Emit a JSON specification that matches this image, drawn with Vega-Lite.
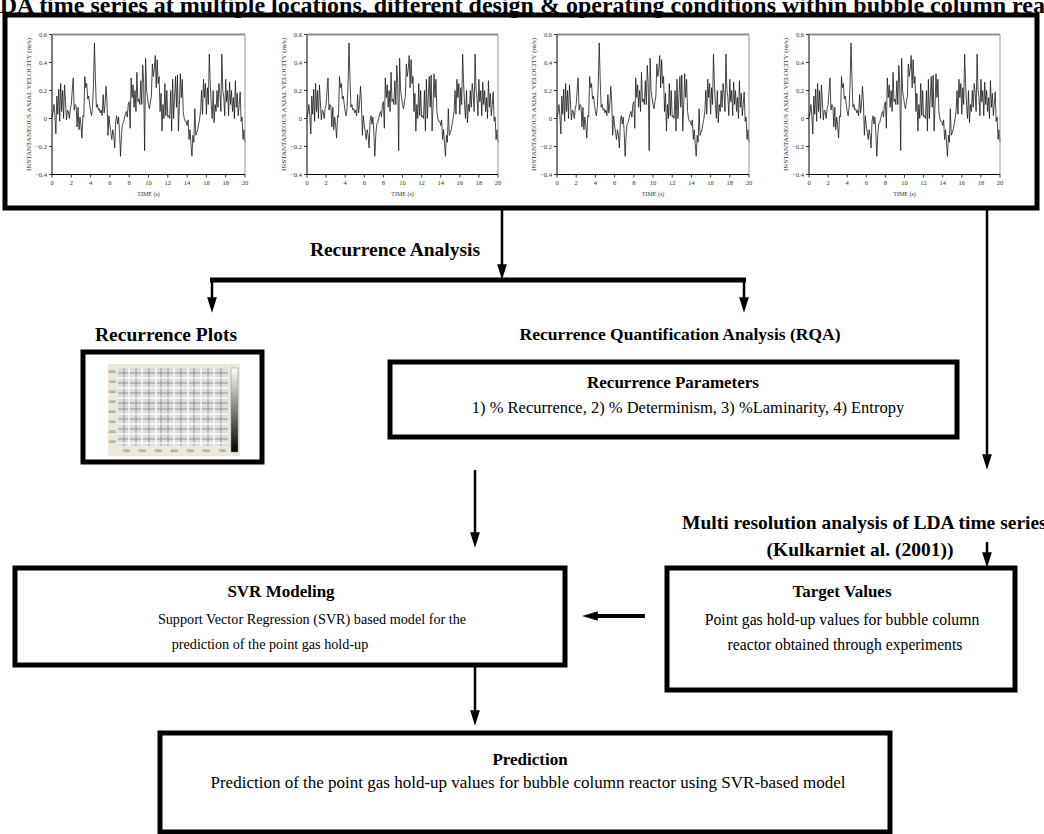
{
  "$schema": "https://vega.github.io/schema/vega-lite/v6.json",
  "width": 1044,
  "height": 834,
  "autosize": "none",
  "padding": 0,
  "background": "white",
  "config": {
    "view": {"stroke": null},
    "text": {"font": "Liberation Serif"}
  },
  "datasets": {
    "lda": [
      {"t":0.0,"v":0.01},{"t":0.1,"v":0.04},{"t":0.2,"v":0.10},{"t":0.3,"v":0.02},{"t":0.4,"v":-0.11},
      {"t":0.5,"v":0.16},{"t":0.6,"v":0.03},{"t":0.7,"v":0.21},{"t":0.8,"v":-0.02},{"t":0.9,"v":0.25},
      {"t":1.0,"v":0.05},{"t":1.1,"v":0.20},{"t":1.2,"v":0.00},{"t":1.3,"v":0.24},{"t":1.4,"v":0.12},
      {"t":1.5,"v":-0.01},{"t":1.6,"v":0.06},{"t":1.7,"v":0.05},{"t":1.8,"v":0.00},{"t":1.9,"v":0.07},
      {"t":2.0,"v":0.10},{"t":2.1,"v":0.20},{"t":2.2,"v":0.29},{"t":2.3,"v":0.06},{"t":2.4,"v":0.10},
      {"t":2.5,"v":0.09},{"t":2.6,"v":-0.06},{"t":2.7,"v":0.08},{"t":2.8,"v":-0.08},{"t":2.9,"v":0.01},
      {"t":3.0,"v":-0.05},{"t":3.1,"v":-0.14},{"t":3.2,"v":0.02},{"t":3.3,"v":0.01},{"t":3.4,"v":0.30},
      {"t":3.5,"v":0.22},{"t":3.6,"v":0.25},{"t":3.7,"v":0.14},{"t":3.8,"v":0.16},{"t":3.9,"v":0.10},
      {"t":4.0,"v":0.05},{"t":4.1,"v":0.02},{"t":4.2,"v":0.08},{"t":4.3,"v":0.25},{"t":4.4,"v":0.54},
      {"t":4.5,"v":0.28},{"t":4.6,"v":0.08},{"t":4.7,"v":0.10},{"t":4.8,"v":0.06},{"t":4.9,"v":0.07},
      {"t":5.0,"v":0.04},{"t":5.1,"v":0.06},{"t":5.2,"v":0.02},{"t":5.3,"v":0.17},{"t":5.4,"v":0.04},
      {"t":5.5,"v":0.10},{"t":5.6,"v":0.23},{"t":5.7,"v":0.12},{"t":5.8,"v":-0.12},{"t":5.9,"v":0.02},
      {"t":6.0,"v":-0.05},{"t":6.1,"v":-0.10},{"t":6.2,"v":-0.15},{"t":6.3,"v":-0.08},{"t":6.4,"v":-0.12},
      {"t":6.5,"v":-0.21},{"t":6.6,"v":-0.02},{"t":6.7,"v":0.02},{"t":6.8,"v":-0.04},{"t":6.9,"v":0.01},
      {"t":7.0,"v":-0.10},{"t":7.1,"v":-0.27},{"t":7.2,"v":-0.12},{"t":7.3,"v":-0.04},{"t":7.4,"v":-0.03},
      {"t":7.5,"v":0.00},{"t":7.6,"v":0.03},{"t":7.7,"v":0.05},{"t":7.8,"v":0.01},{"t":7.9,"v":0.10},
      {"t":8.0,"v":0.12},{"t":8.1,"v":-0.07},{"t":8.2,"v":0.29},{"t":8.3,"v":0.15},{"t":8.4,"v":0.24},
      {"t":8.5,"v":0.08},{"t":8.6,"v":0.20},{"t":8.7,"v":0.05},{"t":8.8,"v":0.33},{"t":8.9,"v":0.12},
      {"t":9.0,"v":0.14},{"t":9.1,"v":0.10},{"t":9.2,"v":0.27},{"t":9.3,"v":0.10},{"t":9.4,"v":0.38},
      {"t":9.5,"v":0.25},{"t":9.6,"v":-0.23},{"t":9.7,"v":0.43},{"t":9.8,"v":0.20},{"t":9.9,"v":0.15},
      {"t":10.0,"v":0.10},{"t":10.1,"v":0.07},{"t":10.2,"v":0.12},{"t":10.3,"v":0.16},{"t":10.4,"v":0.39},
      {"t":10.5,"v":0.30},{"t":10.6,"v":0.35},{"t":10.7,"v":0.45},{"t":10.8,"v":0.22},{"t":10.9,"v":0.42},
      {"t":11.0,"v":0.25},{"t":11.1,"v":0.30},{"t":11.2,"v":0.05},{"t":11.3,"v":0.18},{"t":11.4,"v":-0.09},
      {"t":11.5,"v":0.10},{"t":11.6,"v":0.00},{"t":11.7,"v":0.25},{"t":11.8,"v":0.02},{"t":11.9,"v":0.20},
      {"t":12.0,"v":0.01},{"t":12.1,"v":0.02},{"t":12.2,"v":0.00},{"t":12.3,"v":0.20},{"t":12.4,"v":-0.09},
      {"t":12.5,"v":0.28},{"t":12.6,"v":0.00},{"t":12.7,"v":0.15},{"t":12.8,"v":0.30},{"t":12.9,"v":0.08},
      {"t":13.0,"v":0.31},{"t":13.1,"v":-0.09},{"t":13.2,"v":0.10},{"t":13.3,"v":0.32},{"t":13.4,"v":0.15},
      {"t":13.5,"v":0.28},{"t":13.6,"v":0.05},{"t":13.7,"v":0.00},{"t":13.8,"v":-0.02},{"t":13.9,"v":-0.02},
      {"t":14.0,"v":-0.05},{"t":14.1,"v":-0.01},{"t":14.2,"v":-0.15},{"t":14.3,"v":-0.08},{"t":14.4,"v":-0.18},
      {"t":14.5,"v":-0.27},{"t":14.6,"v":-0.12},{"t":14.7,"v":-0.17},{"t":14.8,"v":0.07},{"t":14.9,"v":-0.12},
      {"t":15.0,"v":-0.10},{"t":15.1,"v":-0.08},{"t":15.2,"v":-0.04},{"t":15.3,"v":0.00},{"t":15.4,"v":0.05},
      {"t":15.5,"v":0.20},{"t":15.6,"v":0.03},{"t":15.7,"v":0.28},{"t":15.8,"v":0.15},{"t":15.9,"v":0.25},
      {"t":16.0,"v":0.03},{"t":16.1,"v":0.22},{"t":16.2,"v":0.10},{"t":16.3,"v":0.46},{"t":16.4,"v":0.25},
      {"t":16.5,"v":0.10},{"t":16.6,"v":0.00},{"t":16.7,"v":0.20},{"t":16.8,"v":-0.03},{"t":16.9,"v":0.10},
      {"t":17.0,"v":0.05},{"t":17.1,"v":0.20},{"t":17.2,"v":0.08},{"t":17.3,"v":0.25},{"t":17.4,"v":0.18},
      {"t":17.5,"v":0.05},{"t":17.6,"v":0.46},{"t":17.7,"v":0.20},{"t":17.8,"v":0.15},{"t":17.9,"v":0.02},
      {"t":18.0,"v":0.28},{"t":18.1,"v":0.12},{"t":18.2,"v":0.20},{"t":18.3,"v":0.02},{"t":18.4,"v":0.26},
      {"t":18.5,"v":0.10},{"t":18.6,"v":0.20},{"t":18.7,"v":0.05},{"t":18.8,"v":0.15},{"t":18.9,"v":0.00},
      {"t":19.0,"v":0.27},{"t":19.1,"v":0.08},{"t":19.2,"v":0.18},{"t":19.3,"v":0.02},{"t":19.4,"v":0.10},
      {"t":19.5,"v":0.19},{"t":19.6,"v":-0.02},{"t":19.7,"v":0.01},{"t":19.8,"v":-0.15},{"t":19.9,"v":-0.08},
      {"t":20.0,"v":-0.17}
    ],
    "frame": [
      {"side":"left","t":0,"v":-0.4,"t2":0,"v2":0.6},
      {"side":"bottom","t":0,"v":-0.4,"t2":20,"v2":-0.4},
      {"side":"top","t":0,"v":0.6,"t2":20,"v2":0.6},
      {"side":"right","t":20,"v":-0.4,"t2":20,"v2":0.6}
    ],
    "xticks": [
      {"t":0,"v":-0.4},{"t":2,"v":-0.4},{"t":4,"v":-0.4},{"t":6,"v":-0.4},{"t":8,"v":-0.4},{"t":10,"v":-0.4},
      {"t":12,"v":-0.4},{"t":14,"v":-0.4},{"t":16,"v":-0.4},{"t":18,"v":-0.4},{"t":20,"v":-0.4}
    ],
    "yticks": [
      {"t":0,"v":-0.4},{"t":0,"v":-0.2},{"t":0,"v":0},{"t":0,"v":0.2},{"t":0,"v":0.4},{"t":0,"v":0.6}
    ],
    "ptitles": [
      {"kind":"x","t":10,"v":-0.4,"text":"TIME (s)"},
      {"kind":"y","t":0,"v":0.1,"text":"INSTANTANEOUS AXIAL VELOCITY (m/s)"}
    ],
    "boxes": [
      {"name":"time series","x":5,"y":15,"x2":1037,"y2":208},
      {"name":"recurrence plot","x":83,"y":352,"x2":262,"y2":462},
      {"name":"rqa","x":390,"y":362,"x2":957,"y2":437},
      {"name":"svr","x":15,"y":568,"x2":565,"y2":665},
      {"name":"target","x":667,"y":568,"x2":1015,"y2":690},
      {"name":"prediction","x":160,"y":733,"x2":890,"y2":832}
    ],
    "segments": [
      {"kind":"shaft","x":502,"y":210,"x2":502,"y2":266},
      {"kind":"bar","x":210,"y":280,"x2":746,"y2":280},
      {"kind":"shaft","x":212,"y":280,"x2":212,"y2":299},
      {"kind":"shaft","x":744,"y":280,"x2":744,"y2":299},
      {"kind":"shaft","x":987,"y":210,"x2":987,"y2":456},
      {"kind":"shaft","x":475,"y":470,"x2":475,"y2":534},
      {"kind":"shaft","x":987,"y":542,"x2":987,"y2":554},
      {"kind":"thick","x":645,"y":616,"x2":596,"y2":616},
      {"kind":"shaft","x":475,"y":665,"x2":475,"y2":712}
    ],
    "heads": [
      {"dir":"down","x":502,"y":272},
      {"dir":"down","x":212,"y":305},
      {"dir":"down","x":744,"y":305},
      {"dir":"down","x":987,"y":462},
      {"dir":"down","x":475,"y":540},
      {"dir":"down","x":987,"y":560},
      {"dir":"left","x":590,"y":616},
      {"dir":"down","x":475,"y":718}
    ],
    "rp": [
      {"part":"frame","x":108,"y":364,"x2":240,"y2":456},
      {"part":"plot","x":118,"y":368,"x2":228,"y2":446}
    ],
    "rpbar": [
      {"part":"colorbar","x":231,"y":368,"x2":238,"y2":452}
    ],
    "stripes": [
      {"tone":"dark","x":124,"y":368,"x2":124,"y2":446},
      {"tone":"light","x":129,"y":368,"x2":129,"y2":446},
      {"tone":"dark","x":136,"y":368,"x2":136,"y2":446},
      {"tone":"light","x":142,"y":368,"x2":142,"y2":446},
      {"tone":"dark","x":149,"y":368,"x2":149,"y2":446},
      {"tone":"light","x":156,"y":368,"x2":156,"y2":446},
      {"tone":"dark","x":161,"y":368,"x2":161,"y2":446},
      {"tone":"dark","x":168,"y":368,"x2":168,"y2":446},
      {"tone":"light","x":174,"y":368,"x2":174,"y2":446},
      {"tone":"dark","x":181,"y":368,"x2":181,"y2":446},
      {"tone":"light","x":188,"y":368,"x2":188,"y2":446},
      {"tone":"dark","x":194,"y":368,"x2":194,"y2":446},
      {"tone":"light","x":201,"y":368,"x2":201,"y2":446},
      {"tone":"dark","x":208,"y":368,"x2":208,"y2":446},
      {"tone":"light","x":214,"y":368,"x2":214,"y2":446},
      {"tone":"dark","x":221,"y":368,"x2":221,"y2":446},
      {"tone":"dark","x":118,"y":373,"x2":228,"y2":373},
      {"tone":"light","x":118,"y":378,"x2":228,"y2":378},
      {"tone":"dark","x":118,"y":383,"x2":228,"y2":383},
      {"tone":"light","x":118,"y":388,"x2":228,"y2":388},
      {"tone":"dark","x":118,"y":393,"x2":228,"y2":393},
      {"tone":"light","x":118,"y":398,"x2":228,"y2":398},
      {"tone":"dark","x":118,"y":403,"x2":228,"y2":403},
      {"tone":"dark","x":118,"y":409,"x2":228,"y2":409},
      {"tone":"light","x":118,"y":414,"x2":228,"y2":414},
      {"tone":"dark","x":118,"y":419,"x2":228,"y2":419},
      {"tone":"light","x":118,"y":424,"x2":228,"y2":424},
      {"tone":"dark","x":118,"y":429,"x2":228,"y2":429},
      {"tone":"light","x":118,"y":434,"x2":228,"y2":434},
      {"tone":"dark","x":118,"y":439,"x2":228,"y2":439},
      {"tone":"light","x":118,"y":443,"x2":228,"y2":443}
    ],
    "texts": [
      {"style":"title","x":535,"y":13,"text":"LDA time series at multiple locations, different design & operating conditions within bubble column reactor"},
      {"style":"label","x":395,"y":250,"text":"Recurrence Analysis"},
      {"style":"label","x":166,"y":335,"text":"Recurrence Plots"},
      {"style":"labelRqa","x":680,"y":335,"text":"Recurrence Quantification Analysis (RQA)"},
      {"style":"heading","x":673,"y":383,"text":"Recurrence Parameters"},
      {"style":"bodyRqa","x":688,"y":408,"text":"1) % Recurrence, 2) % Determinism, 3) %Laminarity, 4) Entropy"},
      {"style":"labelLeft","x":682,"y":523,"text":"Multi resolution analysis of LDA time series"},
      {"style":"label","x":860,"y":550,"text":"(Kulkarniet al. (2001))"},
      {"style":"heading","x":281,"y":592,"text":"SVR Modeling"},
      {"style":"bodySvr","x":312,"y":620,"text":"Support Vector Regression (SVR) based model for the"},
      {"style":"bodySvr","x":270,"y":645,"text":"prediction of  the point gas hold-up"},
      {"style":"heading","x":842,"y":592,"text":"Target Values"},
      {"style":"bodyTarget","x":842,"y":620,"text":"Point gas hold-up values for bubble column"},
      {"style":"bodyTarget","x":845,"y":645,"text":"reactor obtained through experiments"},
      {"style":"heading","x":530,"y":760,"text":"Prediction"},
      {"style":"bodyPred","x":528,"y":783,"text":"Prediction of the point gas hold-up values for bubble column  reactor using SVR-based model"},
      {"style":"tiny","x":112,"y":372,"text":"8000"},
      {"style":"tiny","x":112,"y":382,"text":"7000"},
      {"style":"tiny","x":112,"y":392,"text":"6000"},
      {"style":"tiny","x":112,"y":402,"text":"5000"},
      {"style":"tiny","x":112,"y":412,"text":"4000"},
      {"style":"tiny","x":112,"y":422,"text":"3000"},
      {"style":"tiny","x":112,"y":432,"text":"2000"},
      {"style":"tiny","x":112,"y":442,"text":"1000"},
      {"style":"tiny","x":126,"y":451,"text":"1000"},
      {"style":"tiny","x":142,"y":451,"text":"2000"},
      {"style":"tiny","x":158,"y":451,"text":"3000"},
      {"style":"tiny","x":174,"y":451,"text":"4000"},
      {"style":"tiny","x":190,"y":451,"text":"5000"},
      {"style":"tiny","x":206,"y":451,"text":"6000"},
      {"style":"tiny","x":222,"y":451,"text":"7000"}
    ]
  },
  "layer": [
    {
      "encoding": {
        "x": {"field": "x", "type": "quantitative", "scale": {"domain": [0, 1044], "range": [0, 1044], "nice": false, "zero": false}, "axis": null},
        "y": {"field": "y", "type": "quantitative", "scale": {"domain": [0, 834], "range": [0, 834], "nice": false, "zero": false}, "axis": null}
      },
      "layer": [
        {"data": {"name": "rp"}, "transform": [{"filter": "datum.part === 'frame'"}], "mark": {"type": "rect", "fill": "#ece9da"}, "encoding": {"x2": {"field": "x2"}, "y2": {"field": "y2"}}},
        {"data": {"name": "rp"}, "transform": [{"filter": "datum.part === 'plot'"}], "mark": {"type": "rect", "fill": "#dedede"}, "encoding": {"x2": {"field": "x2"}, "y2": {"field": "y2"}}},
        {"data": {"name": "stripes"}, "transform": [{"filter": "datum.tone === 'dark'"}], "mark": {"type": "rule", "color": "#8a8a8a", "strokeWidth": 1.4, "opacity": 0.6}, "encoding": {"x2": {"field": "x2"}, "y2": {"field": "y2"}}},
        {"data": {"name": "stripes"}, "transform": [{"filter": "datum.tone === 'light'"}], "mark": {"type": "rule", "color": "#ffffff", "strokeWidth": 1.6, "opacity": 0.8}, "encoding": {"x2": {"field": "x2"}, "y2": {"field": "y2"}}},
        {"data": {"name": "rpbar"}, "mark": {"type": "rect", "stroke": "#888", "strokeWidth": 0.5, "fill": {"gradient": "linear", "x1": 0, "y1": 0, "x2": 0, "y2": 1, "stops": [{"offset": 0, "color": "#ffffff"}, {"offset": 1, "color": "#000000"}]}}, "encoding": {"x2": {"field": "x2"}, "y2": {"field": "y2"}}},
        {"data": {"name": "boxes"}, "mark": {"type": "rect", "fillOpacity": 0, "stroke": "black", "strokeWidth": 5}, "encoding": {"x2": {"field": "x2"}, "y2": {"field": "y2"}}},
        {"data": {"name": "segments"}, "transform": [{"filter": "datum.kind === 'shaft'"}], "mark": {"type": "rule", "color": "black", "strokeWidth": 2.5}, "encoding": {"x2": {"field": "x2"}, "y2": {"field": "y2"}}},
        {"data": {"name": "segments"}, "transform": [{"filter": "datum.kind === 'bar'"}], "mark": {"type": "rule", "color": "black", "strokeWidth": 5}, "encoding": {"x2": {"field": "x2"}, "y2": {"field": "y2"}}},
        {"data": {"name": "segments"}, "transform": [{"filter": "datum.kind === 'thick'"}], "mark": {"type": "rule", "color": "black", "strokeWidth": 4}, "encoding": {"x2": {"field": "x2"}, "y2": {"field": "y2"}}},
        {"data": {"name": "heads"}, "transform": [{"filter": "datum.dir === 'down'"}], "mark": {"type": "point", "shape": "M -0.5 -0.8 L 0.5 -0.8 L 0 0.8 Z", "filled": true, "color": "black", "opacity": 1, "size": 380}, "encoding": {}},
        {"data": {"name": "heads"}, "transform": [{"filter": "datum.dir === 'left'"}], "mark": {"type": "point", "shape": "M 0.8 -0.5 L 0.8 0.5 L -0.8 0 Z", "filled": true, "color": "black", "opacity": 1, "size": 380}, "encoding": {}},
        {"data": {"name": "texts"}, "transform": [{"filter": "datum.style === 'title'"}], "mark": {"type": "text", "fontWeight": "bold", "fontSize": 24, "baseline": "alphabetic", "align": "center", "color": "black"}, "encoding": {"text": {"field": "text"}}},
        {"data": {"name": "texts"}, "transform": [{"filter": "datum.style === 'label'"}], "mark": {"type": "text", "fontWeight": "bold", "fontSize": 19.5, "baseline": "middle", "align": "center", "color": "black"}, "encoding": {"text": {"field": "text"}}},
        {"data": {"name": "texts"}, "transform": [{"filter": "datum.style === 'labelRqa'"}], "mark": {"type": "text", "fontWeight": "bold", "fontSize": 17.5, "baseline": "middle", "align": "center", "color": "black"}, "encoding": {"text": {"field": "text"}}},
        {"data": {"name": "texts"}, "transform": [{"filter": "datum.style === 'labelLeft'"}], "mark": {"type": "text", "fontWeight": "bold", "fontSize": 19.5, "baseline": "middle", "align": "left", "color": "black"}, "encoding": {"text": {"field": "text"}}},
        {"data": {"name": "texts"}, "transform": [{"filter": "datum.style === 'heading'"}], "mark": {"type": "text", "fontWeight": "bold", "fontSize": 17, "baseline": "middle", "align": "center", "color": "black"}, "encoding": {"text": {"field": "text"}}},
        {"data": {"name": "texts"}, "transform": [{"filter": "datum.style === 'bodyRqa'"}], "mark": {"type": "text", "fontSize": 16.5, "baseline": "middle", "align": "center", "color": "black"}, "encoding": {"text": {"field": "text"}}},
        {"data": {"name": "texts"}, "transform": [{"filter": "datum.style === 'bodySvr'"}], "mark": {"type": "text", "fontSize": 14.2, "baseline": "middle", "align": "center", "color": "black"}, "encoding": {"text": {"field": "text"}}},
        {"data": {"name": "texts"}, "transform": [{"filter": "datum.style === 'bodyTarget'"}], "mark": {"type": "text", "fontSize": 15.7, "baseline": "middle", "align": "center", "color": "black"}, "encoding": {"text": {"field": "text"}}},
        {"data": {"name": "texts"}, "transform": [{"filter": "datum.style === 'bodyPred'"}], "mark": {"type": "text", "fontSize": 17, "baseline": "middle", "align": "center", "color": "black"}, "encoding": {"text": {"field": "text"}}},
        {"data": {"name": "texts"}, "transform": [{"filter": "datum.style === 'tiny'"}], "mark": {"type": "text", "fontSize": 3.5, "baseline": "middle", "align": "center", "color": "#555"}, "encoding": {"text": {"field": "text"}}}
      ]
    },
    {
      "encoding": {
        "x": {"field": "t", "type": "quantitative", "scale": {"domain": [0, 20], "range": [52, 245], "nice": false, "zero": false}, "axis": null},
        "y": {"field": "v", "type": "quantitative", "scale": {"domain": [-0.4, 0.6], "range": [174.5, 34.5], "nice": false, "zero": false}, "axis": null}
      },
      "layer": [
        {"data": {"name": "lda"}, "mark": {"type": "line", "color": "#1a1a1a", "strokeWidth": 0.8}, "encoding": {}},
        {"data": {"name": "frame"}, "transform": [{"filter": "datum.side === 'left' || datum.side === 'bottom'"}], "mark": {"type": "rule", "color": "black", "strokeWidth": 1}, "encoding": {"x2": {"field": "t2"}, "y2": {"field": "v2"}}},
        {"data": {"name": "frame"}, "transform": [{"filter": "datum.side === 'top'"}], "mark": {"type": "rule", "color": "#8c8c8c", "strokeWidth": 2.2}, "encoding": {"x2": {"field": "t2"}, "y2": {"field": "v2"}}},
        {"data": {"name": "frame"}, "transform": [{"filter": "datum.side === 'right'"}], "mark": {"type": "rule", "color": "#9a9a9a", "strokeWidth": 1}, "encoding": {"x2": {"field": "t2"}, "y2": {"field": "v2"}}},
        {"data": {"name": "xticks"}, "mark": {"type": "rule", "color": "black", "strokeWidth": 0.8, "y2Offset": 3}, "encoding": {"y2": {"field": "v"}}},
        {"data": {"name": "xticks"}, "mark": {"type": "text", "fontSize": 6.5, "dy": 8, "baseline": "middle", "color": "#333"}, "encoding": {"text": {"field": "t", "type": "quantitative"}}},
        {"data": {"name": "yticks"}, "mark": {"type": "rule", "color": "black", "strokeWidth": 0.8, "x2Offset": -3}, "encoding": {"x2": {"field": "t"}}},
        {"data": {"name": "yticks"}, "mark": {"type": "text", "fontSize": 6.5, "dx": -5, "align": "right", "baseline": "middle", "color": "#333"}, "encoding": {"text": {"field": "v", "type": "quantitative", "format": ".1~f"}}},
        {"data": {"name": "ptitles"}, "transform": [{"filter": "datum.kind === 'x'"}], "mark": {"type": "text", "fontSize": 6, "dy": 19, "baseline": "middle", "color": "#333"}, "encoding": {"text": {"field": "text"}}},
        {"data": {"name": "ptitles"}, "transform": [{"filter": "datum.kind === 'y'"}], "mark": {"type": "text", "fontSize": 7, "angle": 270, "xOffset": -23, "baseline": "middle", "color": "#333"}, "encoding": {"text": {"field": "text"}}}
      ]
    },
    {
      "encoding": {
        "x": {"field": "t", "type": "quantitative", "scale": {"domain": [0, 20], "range": [307, 498], "nice": false, "zero": false}, "axis": null},
        "y": {"field": "v", "type": "quantitative", "scale": {"domain": [-0.4, 0.6], "range": [174.5, 34.5], "nice": false, "zero": false}, "axis": null}
      },
      "layer": [
        {"data": {"name": "lda"}, "mark": {"type": "line", "color": "#1a1a1a", "strokeWidth": 0.8}, "encoding": {}},
        {"data": {"name": "frame"}, "transform": [{"filter": "datum.side === 'left' || datum.side === 'bottom'"}], "mark": {"type": "rule", "color": "black", "strokeWidth": 1}, "encoding": {"x2": {"field": "t2"}, "y2": {"field": "v2"}}},
        {"data": {"name": "frame"}, "transform": [{"filter": "datum.side === 'top'"}], "mark": {"type": "rule", "color": "#8c8c8c", "strokeWidth": 2.2}, "encoding": {"x2": {"field": "t2"}, "y2": {"field": "v2"}}},
        {"data": {"name": "frame"}, "transform": [{"filter": "datum.side === 'right'"}], "mark": {"type": "rule", "color": "#9a9a9a", "strokeWidth": 1}, "encoding": {"x2": {"field": "t2"}, "y2": {"field": "v2"}}},
        {"data": {"name": "xticks"}, "mark": {"type": "rule", "color": "black", "strokeWidth": 0.8, "y2Offset": 3}, "encoding": {"y2": {"field": "v"}}},
        {"data": {"name": "xticks"}, "mark": {"type": "text", "fontSize": 6.5, "dy": 8, "baseline": "middle", "color": "#333"}, "encoding": {"text": {"field": "t", "type": "quantitative"}}},
        {"data": {"name": "yticks"}, "mark": {"type": "rule", "color": "black", "strokeWidth": 0.8, "x2Offset": -3}, "encoding": {"x2": {"field": "t"}}},
        {"data": {"name": "yticks"}, "mark": {"type": "text", "fontSize": 6.5, "dx": -5, "align": "right", "baseline": "middle", "color": "#333"}, "encoding": {"text": {"field": "v", "type": "quantitative", "format": ".1~f"}}},
        {"data": {"name": "ptitles"}, "transform": [{"filter": "datum.kind === 'x'"}], "mark": {"type": "text", "fontSize": 6, "dy": 19, "baseline": "middle", "color": "#333"}, "encoding": {"text": {"field": "text"}}},
        {"data": {"name": "ptitles"}, "transform": [{"filter": "datum.kind === 'y'"}], "mark": {"type": "text", "fontSize": 7, "angle": 270, "xOffset": -23, "baseline": "middle", "color": "#333"}, "encoding": {"text": {"field": "text"}}}
      ]
    },
    {
      "encoding": {
        "x": {"field": "t", "type": "quantitative", "scale": {"domain": [0, 20], "range": [557, 749], "nice": false, "zero": false}, "axis": null},
        "y": {"field": "v", "type": "quantitative", "scale": {"domain": [-0.4, 0.6], "range": [174.5, 34.5], "nice": false, "zero": false}, "axis": null}
      },
      "layer": [
        {"data": {"name": "lda"}, "mark": {"type": "line", "color": "#1a1a1a", "strokeWidth": 0.8}, "encoding": {}},
        {"data": {"name": "frame"}, "transform": [{"filter": "datum.side === 'left' || datum.side === 'bottom'"}], "mark": {"type": "rule", "color": "black", "strokeWidth": 1}, "encoding": {"x2": {"field": "t2"}, "y2": {"field": "v2"}}},
        {"data": {"name": "frame"}, "transform": [{"filter": "datum.side === 'top'"}], "mark": {"type": "rule", "color": "#8c8c8c", "strokeWidth": 2.2}, "encoding": {"x2": {"field": "t2"}, "y2": {"field": "v2"}}},
        {"data": {"name": "frame"}, "transform": [{"filter": "datum.side === 'right'"}], "mark": {"type": "rule", "color": "#9a9a9a", "strokeWidth": 1}, "encoding": {"x2": {"field": "t2"}, "y2": {"field": "v2"}}},
        {"data": {"name": "xticks"}, "mark": {"type": "rule", "color": "black", "strokeWidth": 0.8, "y2Offset": 3}, "encoding": {"y2": {"field": "v"}}},
        {"data": {"name": "xticks"}, "mark": {"type": "text", "fontSize": 6.5, "dy": 8, "baseline": "middle", "color": "#333"}, "encoding": {"text": {"field": "t", "type": "quantitative"}}},
        {"data": {"name": "yticks"}, "mark": {"type": "rule", "color": "black", "strokeWidth": 0.8, "x2Offset": -3}, "encoding": {"x2": {"field": "t"}}},
        {"data": {"name": "yticks"}, "mark": {"type": "text", "fontSize": 6.5, "dx": -5, "align": "right", "baseline": "middle", "color": "#333"}, "encoding": {"text": {"field": "v", "type": "quantitative", "format": ".1~f"}}},
        {"data": {"name": "ptitles"}, "transform": [{"filter": "datum.kind === 'x'"}], "mark": {"type": "text", "fontSize": 6, "dy": 19, "baseline": "middle", "color": "#333"}, "encoding": {"text": {"field": "text"}}},
        {"data": {"name": "ptitles"}, "transform": [{"filter": "datum.kind === 'y'"}], "mark": {"type": "text", "fontSize": 7, "angle": 270, "xOffset": -23, "baseline": "middle", "color": "#333"}, "encoding": {"text": {"field": "text"}}}
      ]
    },
    {
      "encoding": {
        "x": {"field": "t", "type": "quantitative", "scale": {"domain": [0, 20], "range": [809, 1000], "nice": false, "zero": false}, "axis": null},
        "y": {"field": "v", "type": "quantitative", "scale": {"domain": [-0.4, 0.6], "range": [174.5, 34.5], "nice": false, "zero": false}, "axis": null}
      },
      "layer": [
        {"data": {"name": "lda"}, "mark": {"type": "line", "color": "#1a1a1a", "strokeWidth": 0.8}, "encoding": {}},
        {"data": {"name": "frame"}, "transform": [{"filter": "datum.side === 'left' || datum.side === 'bottom'"}], "mark": {"type": "rule", "color": "black", "strokeWidth": 1}, "encoding": {"x2": {"field": "t2"}, "y2": {"field": "v2"}}},
        {"data": {"name": "frame"}, "transform": [{"filter": "datum.side === 'top'"}], "mark": {"type": "rule", "color": "#8c8c8c", "strokeWidth": 2.2}, "encoding": {"x2": {"field": "t2"}, "y2": {"field": "v2"}}},
        {"data": {"name": "frame"}, "transform": [{"filter": "datum.side === 'right'"}], "mark": {"type": "rule", "color": "#9a9a9a", "strokeWidth": 1}, "encoding": {"x2": {"field": "t2"}, "y2": {"field": "v2"}}},
        {"data": {"name": "xticks"}, "mark": {"type": "rule", "color": "black", "strokeWidth": 0.8, "y2Offset": 3}, "encoding": {"y2": {"field": "v"}}},
        {"data": {"name": "xticks"}, "mark": {"type": "text", "fontSize": 6.5, "dy": 8, "baseline": "middle", "color": "#333"}, "encoding": {"text": {"field": "t", "type": "quantitative"}}},
        {"data": {"name": "yticks"}, "mark": {"type": "rule", "color": "black", "strokeWidth": 0.8, "x2Offset": -3}, "encoding": {"x2": {"field": "t"}}},
        {"data": {"name": "yticks"}, "mark": {"type": "text", "fontSize": 6.5, "dx": -5, "align": "right", "baseline": "middle", "color": "#333"}, "encoding": {"text": {"field": "v", "type": "quantitative", "format": ".1~f"}}},
        {"data": {"name": "ptitles"}, "transform": [{"filter": "datum.kind === 'x'"}], "mark": {"type": "text", "fontSize": 6, "dy": 19, "baseline": "middle", "color": "#333"}, "encoding": {"text": {"field": "text"}}},
        {"data": {"name": "ptitles"}, "transform": [{"filter": "datum.kind === 'y'"}], "mark": {"type": "text", "fontSize": 7, "angle": 270, "xOffset": -23, "baseline": "middle", "color": "#333"}, "encoding": {"text": {"field": "text"}}}
      ]
    }
  ],
  "resolve": {"scale": {"x": "independent", "y": "independent"}}
}
